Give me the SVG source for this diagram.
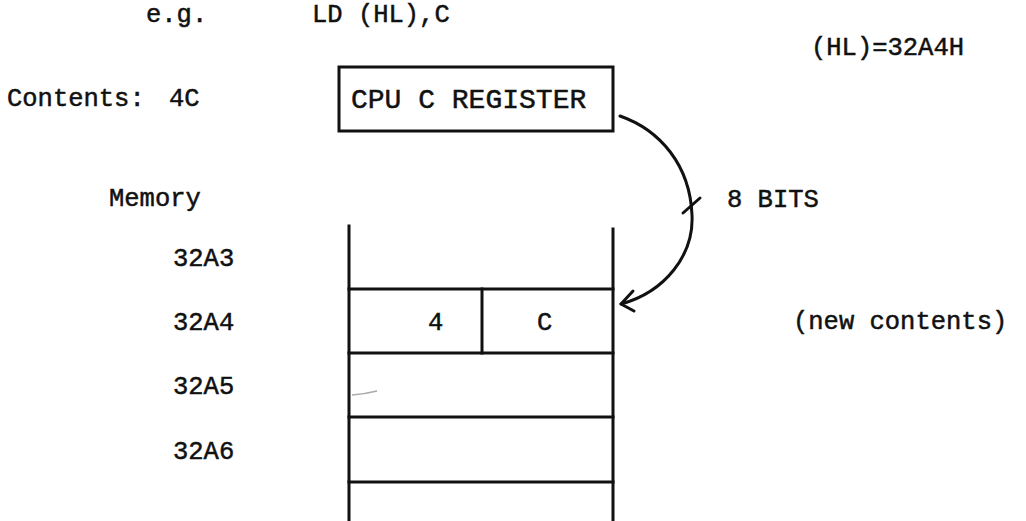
<svg xmlns="http://www.w3.org/2000/svg" width="1026" height="521" viewBox="0 0 1026 521">
<style>
text{font-family:"Liberation Mono","Courier New",monospace;font-size:25.5px;fill:#111;stroke:#111;stroke-width:0.5}
.big{font-size:28px}
.ln{stroke:#111;stroke-width:3;fill:none;stroke-linecap:square}
.arc{stroke:#111;stroke-width:3;fill:none;stroke-linecap:round;stroke-linejoin:round}
</style>
<rect width="1026" height="521" fill="#fff"/>
<g id="labels">
<text x="146" y="22">e.g.</text>
<text x="312" y="22">LD (HL),C</text>
<text x="811" y="55">(HL)=32A4H</text>
<text x="7" y="106">Contents:</text>
<text x="169" y="106">4C</text>
<text x="109" y="206">Memory</text>
<text x="173" y="266">32A3</text>
<text x="173" y="330">32A4</text>
<text x="173" y="394">32A5</text>
<text x="173" y="459">32A6</text>
<text x="727" y="207">8 BITS</text>
<text x="793" y="329">(new contents)</text>
</g>
<g id="cpu-register">
<rect class="ln" x="339" y="67" width="274" height="64"/>
<text class="big" x="351" y="108">CPU C REGISTER</text>
</g>
<g id="memory">
<line class="ln" x1="349" y1="226" x2="349" y2="521"/>
<line class="ln" x1="613" y1="229" x2="613" y2="521"/>
<line class="ln" x1="349" y1="289" x2="613" y2="289"/>
<line class="ln" x1="349" y1="353" x2="613" y2="353"/>
<line class="ln" x1="349" y1="417" x2="613" y2="417"/>
<line class="ln" x1="349" y1="482" x2="613" y2="482"/>
<line class="ln" x1="482" y1="289" x2="482" y2="353"/>
<text x="428" y="330">4</text>
<text x="537" y="330">C</text>
<path d="M352,395 Q365,394 377,391" stroke="#aaa" stroke-width="1.5" fill="none"/>
</g>
<g id="connectors">
<path class="arc" d="M620,116 C660,130 690,165 692,215 C694,255 665,292 621,304"/>
<path class="arc" d="M683,213 L700,198"/>
<path class="arc" d="M633,291 L621,304 L634,311"/>
</g>
</svg>
